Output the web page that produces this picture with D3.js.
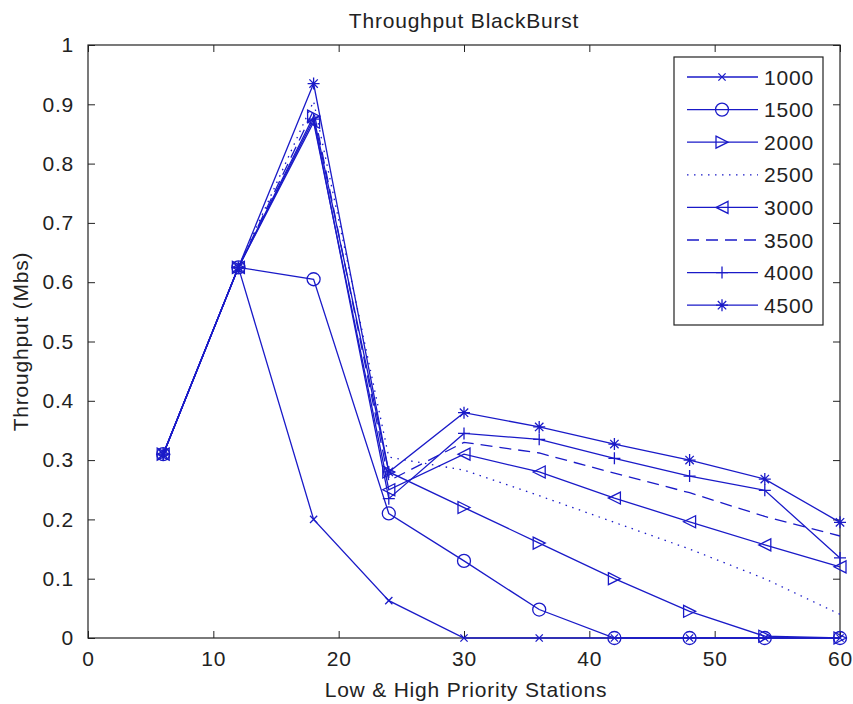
<!DOCTYPE html>
<html>
<head>
<meta charset="utf-8">
<script src="https://cdn.jsdelivr.net/npm/d3@7/dist/d3.min.js"></script>
<style>
  body { margin: 0; background: #fff; }
  text { font-family: "Liberation Sans", Arial, sans-serif; fill: #222; letter-spacing: 0.8px; }
</style>
</head>
<body>
<svg id="chart" width="853" height="704"></svg>
<script>
// data
var stations = [6, 12, 18, 24, 30, 36, 42, 48, 54, 60];
var seriesNames = ["1000", "1500", "2000", "2500", "3000", "3500", "4000", "4500"];
var s1000 = [0.31, 0.625, 0.2, 0.063, 0, 0, 0, 0, 0, 0];
var s1500 = [0.31, 0.625, 0.605, 0.21, 0.13, 0.048, 0, 0, 0, 0];
var s2000 = [0.31, 0.625, 0.88, 0.28, 0.22, 0.16, 0.1, 0.045, 0.003, 0];
var s2500 = [0.31, 0.625, 0.905, 0.305, 0.283, 0.24, 0.195, 0.15, 0.1, 0.04];
var s3000 = [0.31, 0.625, 0.87, 0.25, 0.31, 0.28, 0.236, 0.196, 0.157, 0.12];
var s3500 = [0.31, 0.625, 0.89, 0.265, 0.33, 0.312, 0.278, 0.245, 0.205, 0.172];
var s4000 = [0.31, 0.625, 0.875, 0.235, 0.345, 0.335, 0.303, 0.273, 0.249, 0.135];
var s4500 = [0.31, 0.625, 0.935, 0.28, 0.38, 0.356, 0.327, 0.3, 0.268, 0.195];
var xTicks = [0, 10, 20, 30, 40, 50, 60];
var yTicks = [0, 0.1, 0.2, 0.3, 0.4, 0.5, 0.6, 0.7, 0.8, 0.9, 1];

var allSeries = [s1000, s1500, s2000, s2500, s3000, s3500, s4000, s4500];
var markers = ["x", "o", ">", null, "<", null, "+", "*"];
var dashes = [null, null, null, "1.5,5.5", null, "12,7", null, null];

var blue = "#1a1ac8";
var fontSize = "21px";
var margin = {top: 45, right: 13, bottom: 66, left: 88},
	width = 853 - margin.left - margin.right,
	height = 704 - margin.top - margin.bottom;

var xScale = d3.scaleLinear().domain([0, 60]).range([0, width]);
var yScale = d3.scaleLinear().domain([0, 1]).range([height, 0]);

var svg = d3.select("#chart");
svg.append("rect").attr("width", 853).attr("height", 704).attr("fill", "#fff");
var g = svg.append("g").attr("transform", "translate(" + margin.left + "," + margin.top + ")");

// axes, MATLAB style: inward ticks on all four sides
var tickLen = 7;
var xAxis = d3.axisBottom(xScale).tickValues(xTicks).tickSize(-tickLen).tickPadding(13).tickFormat(d3.format("d"));
var yAxis = d3.axisLeft(yScale).tickValues(yTicks).tickSize(-tickLen).tickPadding(14)
	.tickFormat(function(d) { return d === 0 || d === 1 ? d : d3.format(".1f")(d); });
var xTop = d3.axisTop(xScale).tickValues(xTicks).tickSize(-tickLen).tickFormat("");
var yRight = d3.axisRight(yScale).tickValues(yTicks).tickSize(-tickLen).tickFormat("");

g.append("g").attr("class", "x axis").attr("transform", "translate(0," + height + ")").call(xAxis);
g.append("g").attr("class", "y axis").call(yAxis);
g.append("g").attr("class", "axis").call(xTop);
g.append("g").attr("class", "axis").attr("transform", "translate(" + width + ",0)").call(yRight);
g.selectAll(".domain").remove();
g.selectAll(".tick line").attr("stroke", "#222");
g.selectAll(".tick text").style("font-size", fontSize).attr("fill", "#222");
g.append("rect").attr("width", width).attr("height", height)
	.attr("fill", "none").attr("stroke", "#222").attr("stroke-width", 1.2);

var line = d3.line()
	.x(function(d) { return xScale(d.x); })
	.y(function(d) { return yScale(d.y); });

function drawMarker(sel, type, s) {
	var h = s / 2;
	if (type === "o") {
		sel.append("circle").attr("r", h).attr("fill", "none").attr("stroke", blue);
	} else if (type === "x") {
		sel.append("path").attr("d", "M" + (-h*0.6) + "," + (-h*0.6) + "L" + (h*0.6) + "," + (h*0.6) + "M" + (-h*0.6) + "," + (h*0.6) + "L" + (h*0.6) + "," + (-h*0.6))
			.attr("stroke", blue).attr("fill", "none");
	} else if (type === "+") {
		sel.append("path").attr("d", "M" + (-h) + ",0L" + h + ",0M0," + (-h) + "L0," + h)
			.attr("stroke", blue).attr("fill", "none");
	} else if (type === "*") {
		var k = h * 0.7;
		sel.append("path").attr("d", "M" + (-h) + ",0L" + h + ",0M0," + (-h) + "L0," + h +
			"M" + (-k) + "," + (-k) + "L" + k + "," + k + "M" + (-k) + "," + k + "L" + k + "," + (-k))
			.attr("stroke", blue).attr("fill", "none");
	} else if (type === ">") {
		sel.append("path").attr("d", "M" + (-h) + "," + (-h) + "L" + h + ",0L" + (-h) + "," + h + "Z")
			.attr("stroke", blue).attr("fill", "none");
	} else if (type === "<") {
		sel.append("path").attr("d", "M" + h + "," + (-h) + "L" + (-h) + ",0L" + h + "," + h + "Z")
			.attr("stroke", blue).attr("fill", "none");
	}
}

var data = allSeries.map(function(vals, i) {
	return {name: seriesNames[i], marker: markers[i], dash: dashes[i],
		points: vals.map(function(v, j) { return {x: stations[j], y: v}; })};
});

var series = g.selectAll(".series").data(data).enter().append("g").attr("class", "series");
series.append("path")
	.attr("d", function(d) { return line(d.points); })
	.attr("fill", "none")
	.attr("stroke", blue)
	.attr("stroke-width", 1.3)
	.attr("stroke-dasharray", function(d) { return d.dash; });
series.each(function(d) {
	if (!d.marker) return;
	var grp = d3.select(this);
	d.points.forEach(function(p) {
		var m = grp.append("g").attr("transform", "translate(" + xScale(p.x) + "," + yScale(p.y) + ")")
			.attr("stroke-width", 1.3);
		drawMarker(m, d.marker, d.marker === "o" ? 13 : 12);
	});
});

// legend
var legend = svg.append("g").attr("transform", "translate(674,57)");
legend.append("rect").attr("width", 149).attr("height", 268)
	.attr("fill", "#fff").attr("stroke", "#222").attr("stroke-width", 1.2);
var items = legend.selectAll(".legend").data(data).enter().append("g")
	.attr("class", "legend")
	.attr("transform", function(d, i) { return "translate(0," + (20 + i * 32.6) + ")"; });
items.append("line").attr("x1", 13).attr("x2", 84)
	.attr("stroke", blue).attr("stroke-width", 1.3)
	.attr("stroke-dasharray", function(d) { return d.dash; });
items.each(function(d) {
	if (!d.marker) return;
	var m = d3.select(this).append("g").attr("transform", "translate(48,0)").attr("stroke-width", 1.3);
	drawMarker(m, d.marker, d.marker === "o" ? 13 : 12);
});
items.append("text").attr("x", 90).attr("dy", "0.36em")
	.style("font-size", fontSize).text(function(d) { return d.name; });

// titles
svg.append("text").attr("x", margin.left + width / 2).attr("y", 28)
	.attr("text-anchor", "middle").style("font-size", fontSize).text("Throughput BlackBurst");
svg.append("text").attr("x", margin.left + width / 2 + 2).attr("y", 697)
	.attr("text-anchor", "middle").style("font-size", fontSize).text("Low & High Priority Stations");
svg.append("text").attr("transform", "translate(28," + (margin.top + height / 2) + ") rotate(-90)")
	.attr("text-anchor", "middle").style("font-size", fontSize).text("Throughput (Mbs)");
</script>
</body>
</html>
